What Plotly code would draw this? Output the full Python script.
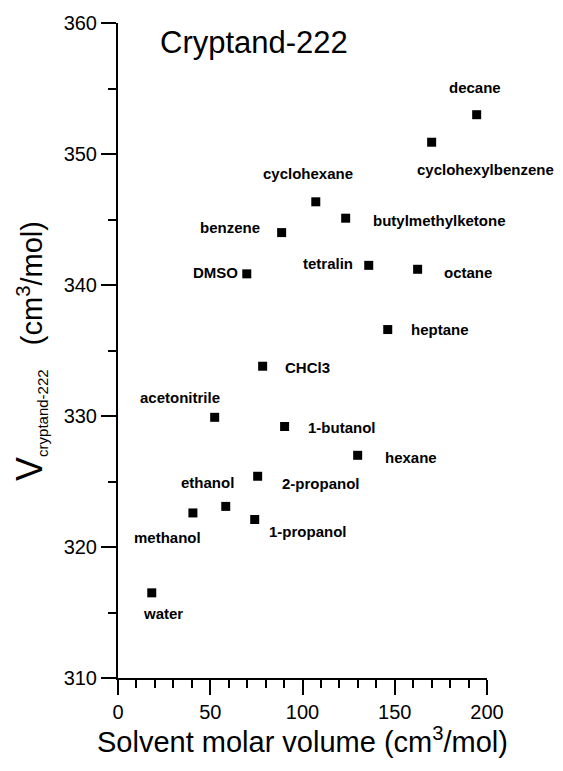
import plotly.graph_objects as go

solvents = ["water", "methanol", "ethanol", "1-propanol", "2-propanol", "acetonitrile",
            "1-butanol", "CHCl3", "hexane", "heptane", "octane", "tetralin",
            "butylmethylketone", "cyclohexane", "benzene", "DMSO",
            "cyclohexylbenzene", "decane"]
molar_volume = [18.3, 40.6, 58.4, 74.1, 75.7, 52.4,
                90.3, 78.4, 129.9, 146.2, 162.4, 135.9,
                123.4, 107.2, 88.7, 69.8,
                170.0, 194.4]
v_cryptand = [316.5, 322.6, 323.1, 322.1, 325.4, 329.9,
              329.2, 333.8, 327.0, 336.6, 341.2, 341.5,
              345.1, 346.35, 344.0, 340.85,
              350.9, 353.0]

x_ticks = [0, 50, 100, 150, 200]
y_ticks = [310, 320, 330, 340, 350, 360]

# label placement offsets in pixels (dx, dy; dy positive = up) and anchors
label_offsets = {
    "water": (11, -21, "center"),
    "methanol": (-25, -25, "center"),
    "ethanol": (-18, 24, "center"),
    "1-propanol": (53, -12, "center"),
    "2-propanol": (63, -7, "center"),
    "acetonitrile": (-35, 20, "center"),
    "1-butanol": (57, -1, "center"),
    "CHCl3": (45, -1, "center"),
    "hexane": (53, -2, "center"),
    "heptane": (52, 0, "center"),
    "octane": (50, -3, "center"),
    "tetralin": (-41, 2, "center"),
    "butylmethylketone": (94, -2, "center"),
    "cyclohexane": (-8, 28, "center"),
    "benzene": (-52, 5, "center"),
    "DMSO": (-7, 1, "right"),
    "cyclohexylbenzene": (54, -27, "center"),
    "decane": (-2, 27, "center"),
}

FONT = "Liberation Sans, Arial, Helvetica, sans-serif"

fig = go.Figure()
fig.add_trace(go.Scatter(
    x=molar_volume, y=v_cryptand, mode="markers",
    marker=dict(symbol="square", size=9, color="black", line=dict(width=0)),
    showlegend=False, hoverinfo="skip", cliponaxis=False,
))

annotations = []
for name, xv, yv in zip(solvents, molar_volume, v_cryptand):
    dx, dy, anc = label_offsets[name]
    annotations.append(dict(
        x=xv, y=yv, xref="x", yref="y", text="<b>" + name + "</b>", showarrow=False,
        xshift=dx, yshift=dy, xanchor=anc, yanchor="middle",
        font=dict(family=FONT, size=15, color="black"),
    ))

# chart title inside plot
annotations.append(dict(
    x=0.108, y=0.97, xref="paper", yref="paper", text="Cryptand-222",
    showarrow=False, xanchor="left", yanchor="middle",
    font=dict(family=FONT, size=31, color="black"),
))
# y axis title
annotations.append(dict(
    x=-0.24, y=0.5, xref="paper", yref="paper",
    text='<span style="font-size:36px">V</span><sub><span style="font-size:15px">cryptand-222</span></sub>   (cm<sup>3</sup>/mol)',
    showarrow=False, textangle=-90, xanchor="center", yanchor="middle",
    font=dict(family=FONT, size=29, color="black"),
))
# x axis title
annotations.append(dict(
    x=0.5, y=-0.095, xref="paper", yref="paper",
    text="Solvent molar volume (cm<sup>3</sup>/mol)",
    showarrow=False, xanchor="center", yanchor="middle",
    font=dict(family=FONT, size=29, color="black"),
))

fig.update_layout(
    width=555, height=763,
    margin=dict(l=110, r=76, t=15, b=93, pad=0),
    paper_bgcolor="white", plot_bgcolor="white",
    font=dict(family=FONT, color="black"),
    annotations=annotations,
    xaxis=dict(
        range=[0, 200], tickvals=x_ticks, ticktext=[str(v) for v in x_ticks],
        ticks="outside", ticklen=15, tickwidth=2, tickcolor="black",
        showline=True, linewidth=2, linecolor="black", mirror=False,
        showgrid=False, zeroline=False, automargin=False,
        tickfont=dict(family=FONT, size=20, color="black"),
        minor=dict(dtick=10, ticks="outside", ticklen=8, tickwidth=2, tickcolor="black", showgrid=False),
    ),
    yaxis=dict(
        range=[310, 360], tickvals=y_ticks, ticktext=[str(v) for v in y_ticks],
        ticks="outside", ticklen=15, tickwidth=2, tickcolor="black",
        showline=True, linewidth=2, linecolor="black", mirror=False,
        showgrid=False, zeroline=False, automargin=False,
        tickfont=dict(family=FONT, size=20, color="black"),
        minor=dict(dtick=5, ticks="outside", ticklen=8, tickwidth=2, tickcolor="black", showgrid=False),
    ),
)

fig.write_html("out.html")
